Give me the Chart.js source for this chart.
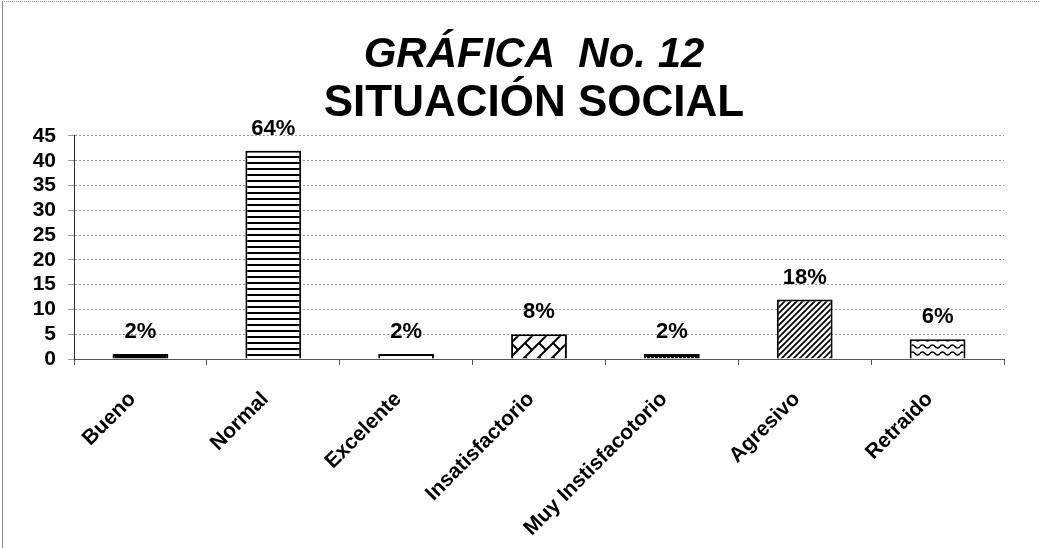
<!DOCTYPE html>
<html lang="es">
<head>
<meta charset="utf-8">
<title>Gráfica No. 12 — Situación social</title>
<script src="https://cdn.jsdelivr.net/npm/chart.js@4.4.1/dist/chart.umd.min.js"></script>
<style>
  html, body { margin: 0; padding: 0; background: #fff; }
  #wrap  { position: relative; width: 1039px; height: 548px; overflow: hidden; }
  #frame { position: absolute; left: 2px; top: 1px; right: 0; bottom: 0;
           border-left: 1px solid #8a8a8a; border-top: 1px dotted #9a9a9a;
           pointer-events: none; }
</style>
</head>
<body>
<div id="wrap">
  <canvas id="chart" width="1039" height="548"></canvas>
  <div id="frame"></div>
</div>
<script>
/* ── DATA ── */
const categories    = ['Bueno', 'Normal', 'Excelente', 'Insatisfactorio',
                       'Muy Instisfacotorio', 'Agresivo', 'Retraido'];
const counts        = [1, 42, 1, 5, 1, 12, 4];
const percentLabels = ['2%', '64%', '2%', '8%', '2%', '18%', '6%'];
const yMax          = 45;
const yStep         = 5;

const FONT = '"Liberation Sans", Arial, sans-serif';

/* ── PATTERN FILLS (black & white hatching like the print) ── */
function makePattern(w, h, draw) {
  const c = document.createElement('canvas');
  c.width = w; c.height = h;
  const g = c.getContext('2d');
  draw(g, w, h);
  return g.createPattern(c, 'repeat');
}

const solidBlack = '#000';
const plainWhite = '#fff';

const hStripes = makePattern(6, 6, (g) => {
  g.fillStyle = '#fff'; g.fillRect(0, 0, 6, 6);
  g.fillStyle = '#000'; g.fillRect(0, 0, 6, 2);
});

const bricks = makePattern(14, 14, (g) => {
  g.fillStyle = '#fff'; g.fillRect(0, 0, 14, 14);
  g.strokeStyle = '#000'; g.lineWidth = 2;
  g.beginPath();
  g.moveTo(-2, 16); g.lineTo(16, -2);
  g.moveTo(-2, 2);  g.lineTo(2, -2);
  g.moveTo(12, 16); g.lineTo(16, 12);
  g.moveTo(7, 7);   g.lineTo(14, 14);
  g.stroke();
});

const dottedBlack = makePattern(4, 5, (g) => {
  g.fillStyle = '#000'; g.fillRect(0, 0, 4, 5);
  g.fillStyle = '#fff'; g.fillRect(2, 2, 1, 2);
});

const diagLines = makePattern(6, 6, (g) => {
  g.fillStyle = '#fff'; g.fillRect(0, 0, 6, 6);
  g.strokeStyle = '#000'; g.lineWidth = 1.8;
  g.beginPath();
  g.moveTo(-1, 7); g.lineTo(7, -1);
  g.moveTo(-1, 1); g.lineTo(1, -1);
  g.moveTo(5, 7);  g.lineTo(7, 5);
  g.stroke();
});

const waves = makePattern(10, 7, (g) => {
  g.fillStyle = '#fff'; g.fillRect(0, 0, 10, 7);
  g.strokeStyle = '#000'; g.lineWidth = 1.6;
  g.beginPath();
  g.moveTo(0, 3.5);
  g.quadraticCurveTo(2.5, 0.5, 5, 3.5);
  g.quadraticCurveTo(7.5, 6.5, 10, 3.5);
  g.stroke();
});

const barFills = [solidBlack, hStripes, plainWhite, bricks, dottedBlack, diagLines, waves];

/* ── PERCENT LABELS ABOVE BARS ── */
const percentPlugin = {
  id: 'percentLabels',
  afterDatasetsDraw(chart) {
    const ctx  = chart.ctx;
    const meta = chart.getDatasetMeta(0);
    ctx.save();
    ctx.font         = `bold 22px ${FONT}`;
    ctx.fillStyle    = '#000';
    ctx.textAlign    = 'center';
    ctx.textBaseline = 'alphabetic';
    meta.data.forEach((bar, i) => ctx.fillText(percentLabels[i], bar.x, bar.y - 16));
    ctx.restore();
  }
};

/* ── TITLE SHIFT: the printed title sits a bit right of the page centre ── */
const titleShift = {
  id: 'titleShift',
  afterLayout(chart) {
    chart.boxes.forEach(b => {
      if (b.options && b.options.text !== undefined && b.fullSize) b.left = 64;
    });
  }
};

/* ── CHART ── */
new Chart(document.getElementById('chart').getContext('2d'), {
  type: 'bar',
  data: {
    labels: categories,
    datasets: [{
      data: counts,
      backgroundColor: barFills,
      borderColor: '#000',
      borderWidth: 2,
      categoryPercentage: 1,
      barPercentage: 0.42
    }]
  },
  options: {
    responsive: false,
    animation: false,
    layout: { padding: { left: 0, right: 35, top: 0, bottom: 0 } },
    plugins: {
      legend:  { display: false },
      tooltip: { enabled: false },
      title: {
        display: true,
        text: 'GRÁFICA  No. 12',
        color: '#000',
        font: { family: FONT, size: 42, weight: 'bold', style: 'italic', lineHeight: 1.0 },
        padding: { top: 34.5, bottom: 0 }
      },
      subtitle: {
        display: true,
        text: 'SITUACIÓN SOCIAL',
        color: '#000',
        font: { family: FONT, size: 44, weight: 'bold', lineHeight: 1.227 },
        padding: { top: 0, bottom: 5.5 }
      }
    },
    scales: {
      x: {
        offset: true,
        grid:   { drawOnChartArea: false, tickLength: 6, color: '#555', offset: true },
        border: { color: '#555', width: 1 },
        ticks: {
          autoSkip: false,
          minRotation: 45,
          maxRotation: 45,
          padding: 22,
          labelOffset: -8,
          color: '#000',
          font: { family: FONT, size: 21, weight: 'bold' }
        },
        afterFit(scale) { scale.height = 189; }
      },
      y: {
        min: 0,
        max: yMax,
        grid:   { color: '#9a9a9a', lineWidth: 1, tickLength: 6 },
        border: { color: '#333', width: 1, dash: [2, 2] },
        ticks: {
          stepSize: yStep,
          autoSkip: false,
          padding: 12,
          color: '#000',
          font: { family: FONT, size: 21, weight: 'bold' }
        },
        afterFit(scale) { scale.width = 74; }
      }
    }
  },
  plugins: [percentPlugin, titleShift]
});
</script>
</body>
</html>
